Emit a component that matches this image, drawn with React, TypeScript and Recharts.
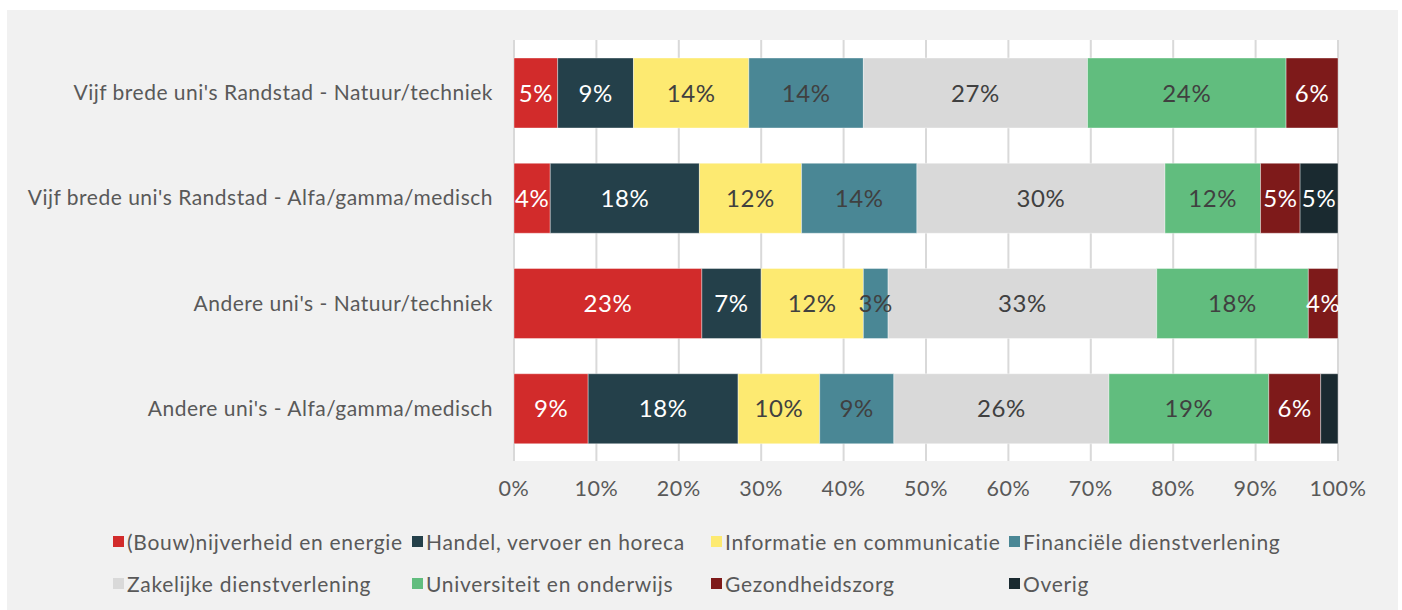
import React from 'react';
import { BarChart, Bar, XAxis, YAxis, CartesianGrid, LabelList, Legend } from 'recharts';

const categories = [
  "Vijf brede uni's Randstad - Natuur/techniek",
  "Vijf brede uni's Randstad - Alfa/gamma/medisch",
  "Andere uni's - Natuur/techniek",
  "Andere uni's - Alfa/gamma/medisch",
];

const sectors = [
  '(Bouw)nijverheid en energie',
  'Handel, vervoer en horeca',
  'Informatie en communicatie',
  'Financiële dienstverlening',
  'Zakelijke dienstverlening',
  'Universiteit en onderwijs',
  'Gezondheidszorg',
  'Overig',
];

// share per sector (%), one value per category (top to bottom)
const bouw = [5.3, 4.4, 22.8, 9.0];
const handel = [9.2, 18.1, 7.2, 18.2];
const informatie = [14.0, 12.4, 12.4, 9.9];
const financieel = [13.9, 14.0, 3.0, 9.0];
const zakelijk = [27.2, 30.1, 32.6, 26.1];
const universiteit = [24.1, 11.6, 18.4, 19.4];
const gezondheid = [6.3, 4.8, 3.6, 6.3];
const overig = [0, 4.6, 0, 2.1];

const xTicks = [0, 10, 20, 30, 40, 50, 60, 70, 80, 90, 100];

const seriesValues = [bouw, handel, informatie, financieel, zakelijk, universiteit, gezondheid, overig];
const colors = ['#d22b2b', '#24404a', '#fdea71', '#4a8795', '#d9d9d9', '#61bd7e', '#7e1a1a', '#1a2a30'];
const labelColors = ['#ffffff', '#ffffff', '#404040', '#404040', '#404040', '#404040', '#ffffff', '#ffffff'];

const data = categories.map((name, i) => {
  const row: Record<string, string | number> = { name };
  sectors.forEach((s, j) => {
    row[`s${j}`] = seriesValues[j][i];
  });
  return row;
});

const FONT = 'Lato, "Open Sans", sans-serif';

const legendCols = [106, 405, 704, 1002];

const renderLegend = () => (
  <div style={{ position: 'relative', width: 1391, height: 100, fontFamily: FONT }}>
    {sectors.map((s, i) => {
      const col = i % 4;
      const row = Math.floor(i / 4);
      return (
        <div
          key={s}
          style={{
            position: 'absolute',
            left: legendCols[col],
            top: 19 + row * 42,
            height: 24,
            display: 'flex',
            alignItems: 'center',
            whiteSpace: 'nowrap',
          }}
        >
          <span style={{ display: 'inline-block', width: 11, height: 11, background: colors[i], marginRight: 3 }} />
          <span style={{ fontSize: 21, letterSpacing: 0.7, color: '#595959' }}>{s}</span>
        </div>
      );
    })}
  </div>
);

const App: React.FC = () => {
  return (
    <div
      style={{
        position: 'absolute',
        left: 7,
        top: 10,
        width: 1391,
        height: 600,
        background: '#f1f1f1',
        fontFamily: FONT,
      }}
    >
      <BarChart
        width={1391}
        height={600}
        data={data}
        layout="vertical"
        margin={{ top: 30, right: 60, bottom: 0, left: 0 }}
        barSize={70}
      >
        <CartesianGrid horizontal={false} vertical fill="#ffffff" stroke="#d9d9d9" strokeWidth={2} />
        <XAxis
          type="number"
          domain={[0, 100]}
          ticks={xTicks}
          tickFormatter={(v: number) => `${v}%`}
          axisLine={false}
          tickLine={false}
          tickMargin={14}
          height={49}
          tick={{ fontSize: 21.5, fill: '#595959', fontFamily: FONT, letterSpacing: 0.6 }}
          interval={0}
        />
        <YAxis
          type="category"
          dataKey="name"
          width={507}
          axisLine={false}
          tickLine={false}
          tickMargin={15}
          tick={{ fontSize: 21, fill: '#595959', fontFamily: FONT, letterSpacing: 0.5 }}
        />
        <Legend verticalAlign="bottom" height={100} wrapperStyle={{ left: 0, width: 1391, height: 100 }} content={renderLegend} />
        {sectors.map((s, j) => (
          <Bar
            key={s}
            dataKey={`s${j}`}
            name={s}
            stackId="a"
            fill={colors[j]}
            stroke="#ffffff"
            strokeOpacity={0.5}
            strokeWidth={0.75}
            isAnimationActive={false}
          >
            <LabelList
              dataKey={`s${j}`}
              position="center"
              fill={labelColors[j]}
              style={{ fontSize: 24, fontFamily: FONT, letterSpacing: 0.6 }}
              formatter={(v: any) => (Number(v) >= 2.5 ? `${Math.round(Number(v))}%` : '')}
            />
          </Bar>
        ))}
      </BarChart>
    </div>
  );
};

export default App;
